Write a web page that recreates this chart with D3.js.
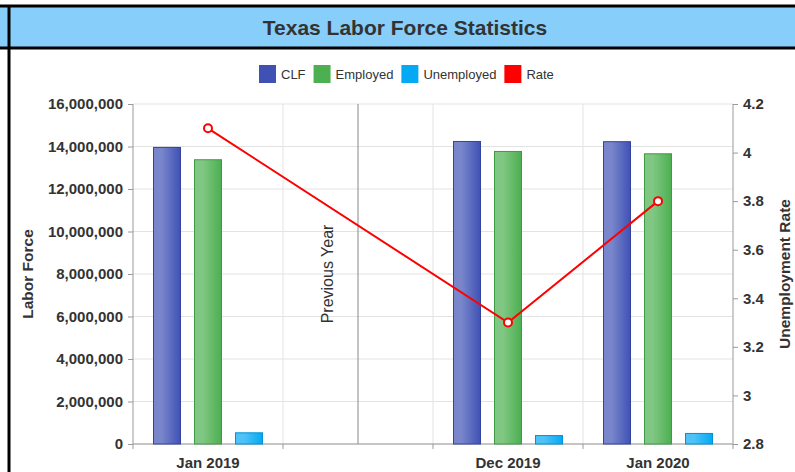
<!DOCTYPE html>
<html>
<head>
<meta charset="utf-8">
<script src="https://cdn.jsdelivr.net/npm/d3@7"></script>
<style>
  body { margin: 0; background: #fff; font-family: "Liberation Sans", Arial, sans-serif; }
  svg text { fill: #333; }
</style>
</head>
<body>
<svg id="chart" width="795" height="472"></svg>
<script>
// data
const categories = ["Jan 2019", "", "Dec 2019", "Jan 2020"];
const seriesNames = ["CLF", "Employed", "Unemployed"];
const clf        = [13980000, null, 14260000, 14250000];
const employed   = [13400000, null, 13790000, 13680000];
const unemployed = [  550000, null,   420000,   520000];
const rate       = [4.1, null, 3.3, 3.8];
const leftTicks  = [0, 2000000, 4000000, 6000000, 8000000, 10000000, 12000000, 14000000, 16000000];
const rightTicks = [2.8, 3.0, 3.2, 3.4, 3.6, 3.8, 4.0, 4.2];

const colors = { CLF: "#3F51B5", Employed: "#4CAF50", Unemployed: "#03A9F4", Rate: "#FF0000" };
const light  = { CLF: "#7986CB", Employed: "#81C784", Unemployed: "#4FC3F7" };
const dark   = { CLF: "#3343A0", Employed: "#3E9A43", Unemployed: "#0291D4" };

const svg = d3.select("#chart");
const m = { left: 133, right: 733, top: 104, bottom: 444 };

// frame: title banner + table borders
svg.append("rect").attr("x", 0).attr("y", 6).attr("width", 795).attr("height", 42).attr("fill", "#87CEFA");
svg.append("line").attr("x1", 0).attr("x2", 795).attr("y1", 6).attr("y2", 6).attr("stroke", "#000").attr("stroke-width", 3);
svg.append("line").attr("x1", 0).attr("x2", 795).attr("y1", 48).attr("y2", 48).attr("stroke", "#000").attr("stroke-width", 3);
svg.append("line").attr("x1", 9).attr("x2", 9).attr("y1", 5).attr("y2", 472).attr("stroke", "#000").attr("stroke-width", 3);

svg.append("text").attr("x", 405).attr("y", 35).attr("text-anchor", "middle")
  .style("font-size", "21px").style("font-weight", "bold").text("Texas Labor Force Statistics");

// gradients for bars
const defs = svg.append("defs");
seriesNames.forEach(s => {
  const g = defs.append("linearGradient").attr("id", "g" + s).attr("x1", 0).attr("x2", 1).attr("y1", 0).attr("y2", 0);
  g.append("stop").attr("offset", "0%").attr("stop-color", light[s]);
  g.append("stop").attr("offset", "30%").attr("stop-color", light[s]);
  g.append("stop").attr("offset", "100%").attr("stop-color", colors[s]);
});

// scales
const x = d3.scaleBand().domain(categories).range([m.left, m.right]);
const xs = d3.scaleBand().domain(seriesNames).range([13.5, 136.5]).paddingInner(13 / 41).paddingOuter(13 / 82);
const y = d3.scaleLinear().domain([0, 16000000]).range([m.bottom, m.top]);
const y2 = d3.scaleLinear().domain([2.8, 4.2]).range([m.bottom, m.top]);

// gridlines
svg.append("g").selectAll("line").data(leftTicks).join("line")
  .attr("x1", m.left).attr("x2", m.right).attr("y1", d => y(d)).attr("y2", d => y(d))
  .attr("stroke", "#e3e3e3").attr("stroke-width", 1);
svg.append("g").selectAll("line").data(categories.slice(1)).join("line")
  .attr("x1", d => x(d)).attr("x2", d => x(d)).attr("y1", m.top).attr("y2", m.bottom)
  .attr("stroke", "#e3e3e3").attr("stroke-width", 1);

// previous year separator
const sepX = x("") + x.bandwidth() / 2;
svg.append("line").attr("x1", sepX).attr("x2", sepX).attr("y1", m.top).attr("y2", m.bottom)
  .attr("stroke", "#888").attr("stroke-width", 1);
svg.append("text").attr("transform", `translate(${sepX - 25},${(m.top + m.bottom) / 2}) rotate(-90)`)
  .attr("text-anchor", "middle").style("font-size", "16px").text("Previous Year");

// axes
const axL = svg.append("g").attr("transform", `translate(${m.left},0)`)
  .call(d3.axisLeft(y).tickValues(leftTicks).tickFormat(d3.format(",")).tickSize(5).tickPadding(5));
const axR = svg.append("g").attr("transform", `translate(${m.right},0)`)
  .call(d3.axisRight(y2).tickValues(rightTicks).tickFormat(d => String(+d.toFixed(1))).tickSize(5).tickPadding(5));
const axB = svg.append("g").attr("transform", `translate(0,${m.bottom})`)
  .call(d3.axisBottom(x).tickSize(0).tickPadding(19));
axB.selectAll(".tick text").attr("dy", "0.35em");
// boundary ticks on the category axis
svg.append("g").selectAll("line").data(categories).join("line")
  .attr("x1", d => x(d)).attr("x2", d => x(d)).attr("y1", m.bottom).attr("y2", m.bottom + 5)
  .attr("stroke", "#999");
svg.append("line").attr("x1", m.right).attr("x2", m.right).attr("y1", m.bottom).attr("y2", m.bottom + 5).attr("stroke", "#999");

[axL, axR, axB].forEach(a => {
  a.select(".domain").attr("stroke", "#999");
  a.selectAll(".tick line").attr("stroke", "#999");
  a.selectAll(".tick text").attr("fill", "#333").style("font-size", "15px").style("font-weight", "bold")
    .style("font-family", "'Liberation Sans', Arial, sans-serif");
});
axL.select(".domain").attr("d", `M0,${m.top}V${m.bottom}`);
axR.select(".domain").attr("d", `M0,${m.top}V${m.bottom}`);
axB.select(".domain").attr("d", `M${m.left},0H${m.right}`);

// axis titles
svg.append("text").attr("transform", `translate(33,${(m.top + m.bottom) / 2}) rotate(-90)`)
  .attr("text-anchor", "middle").style("font-size", "15.5px").style("font-weight", "bold").text("Labor Force");
svg.append("text").attr("transform", `translate(790,${(m.top + m.bottom) / 2}) rotate(-90)`)
  .attr("text-anchor", "middle").style("font-size", "15.5px").style("font-weight", "bold").text("Unemployment Rate");

// bars
const values = { CLF: clf, Employed: employed, Unemployed: unemployed };
const barData = [];
categories.forEach((c, i) => seriesNames.forEach(s => {
  if (values[s][i] != null) barData.push({ c: c, s: s, v: values[s][i] });
}));
svg.append("g").selectAll("rect").data(barData).join("rect")
  .attr("x", d => x(d.c) + xs(d.s) + 0.5)
  .attr("y", d => y(d.v) + 0.5)
  .attr("width", xs.bandwidth() - 1)
  .attr("height", d => y(0) - y(d.v) - 0.5)
  .attr("fill", d => `url(#g${d.s})`)
  .attr("stroke", d => dark[d.s]).attr("stroke-width", 1);

// rate line
const ratePts = categories.map((c, i) => ({ c: c, v: rate[i] })).filter(d => d.v != null);
const line = d3.line().x(d => x(d.c) + x.bandwidth() / 2).y(d => y2(d.v));
svg.append("path").attr("d", line(ratePts)).attr("fill", "none").attr("stroke", colors.Rate).attr("stroke-width", 2);
svg.append("g").selectAll("circle").data(ratePts).join("circle")
  .attr("cx", d => x(d.c) + x.bandwidth() / 2).attr("cy", d => y2(d.v)).attr("r", 4)
  .attr("fill", "#fff").attr("stroke", colors.Rate).attr("stroke-width", 2);

// legend
const legendNames = ["CLF", "Employed", "Unemployed", "Rate"];
const leg = svg.append("g");
let lx = 259;
legendNames.forEach(n => {
  leg.append("rect").attr("x", lx).attr("y", 65).attr("width", 17).attr("height", 18).attr("fill", colors[n]);
  const t = leg.append("text").attr("x", lx + 22).attr("y", 79).style("font-size", "13px").text(n);
  lx += 22 + t.node().getComputedTextLength() + 8;
});
</script>
</body>
</html>
